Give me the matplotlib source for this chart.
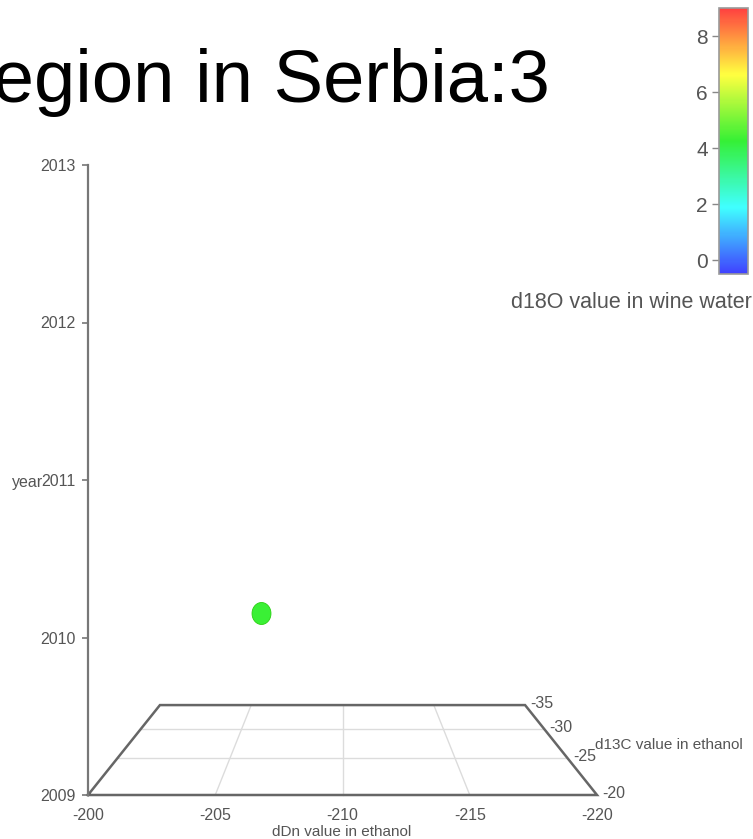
import numpy as np
import matplotlib
matplotlib.use('Agg')
import matplotlib.pyplot as plt
from matplotlib.colors import LinearSegmentedColormap, Normalize
from matplotlib.cm import ScalarMappable
from matplotlib.path import Path

# data (one sample)
dDn = [-206.2]
d13C = [-26.9]
year = [2010.0]
d18O = [4.3]

x_ticks = [-200, -205, -210, -215, -220]
z_ticks = [-20, -25, -30, -35]
year_ticks = [2009, 2010, 2011, 2012, 2013]
cbar_ticks = [0, 2, 4, 6, 8]

W, H = 753, 839
GRAY = '#555555'
plt.rcParams['font.family'] = ['Liberation Sans', 'DejaVu Sans']
plt.rcParams['axes.unicode_minus'] = False

fig = plt.figure(figsize=(W / 100, H / 100), dpi=100)


def px(l, b, r, t):
    # pixel box -> figure fraction rect
    return [l / W, 1 - b / H, (r - l) / W, (b - t) / H]


# front plane of the 3d box: x = dDn, y = year
ax = fig.add_axes(px(88, 795, 597, 165))
ax.set_xlim(-200, -220)
ax.set_ylim(2009, 2013)

# fake perspective for the depth axis (d13C)
Z_FRONT, Z_BACK = -20, -35
K = 0.394
CX, CY = -210, 2011.02


def proj(x, z, y):
    x, z, y = np.asarray(x, float), np.asarray(z, float), np.asarray(y, float)
    s = 1 + K * (z - Z_FRONT) / (Z_BACK - Z_FRONT)
    return CX + (x - CX) / s, CY + (y - CY) / s


# floor grid
for xv in x_ticks[1:-1]:
    gx, gy = proj([xv, xv], [Z_FRONT, Z_BACK], [2009, 2009])
    ax.plot(gx, gy, color='#dcdcdc', lw=1, clip_on=False, zorder=1)
for zv in z_ticks[1:-1]:
    gx, gy = proj([-200, -220], [zv, zv], [2009, 2009])
    ax.plot(gx, gy, color='#dcdcdc', lw=1, clip_on=False, zorder=1)

# floor outline
ox, oy = proj([-200, -220, -220, -200, -200],
              [Z_FRONT, Z_FRONT, Z_BACK, Z_BACK, Z_FRONT],
              [2009] * 5)
ax.plot(ox, oy, color='#666666', lw=1.8, clip_on=False, zorder=2,
        solid_joinstyle='miter')

# d13C tick labels along the right edge
for zv in z_ticks:
    lx, ly = proj(-220, zv, 2009)
    ax.annotate(str(zv), (lx, ly), xytext=(4, 1), textcoords='offset points',
                ha='left', va='center', fontsize=11.5, color=GRAY,
                annotation_clip=False)

# the sample
t = np.linspace(0, 2 * np.pi, 60)
oval = Path(np.column_stack([np.cos(t), 1.16 * np.sin(t)]))
cmap = LinearSegmentedColormap.from_list(
    'd18o', ['#4040ff', '#40ffff', '#35f035', '#ffff40', '#ff4040'])
norm = Normalize(vmin=-0.5, vmax=9.0)
sx, sy = proj(dDn, d13C, year)
ax.scatter(sx, sy, c=d18O, cmap=cmap, norm=norm, s=250, marker=oval,
           edgecolors='#28d010', linewidths=0.6, clip_on=False, zorder=5)

# axes styling: left spine is the year axis
for side in ['top', 'right', 'bottom']:
    ax.spines[side].set_visible(False)
ax.spines['left'].set_color('#777777')
ax.spines['left'].set_linewidth(1.6)
ax.set_yticks(year_ticks)
ax.set_xticks(x_ticks)
ax.tick_params(axis='y', length=4, width=1.2, color='#777777', pad=5,
               labelsize=11.5, labelcolor=GRAY)
ax.tick_params(axis='x', length=0, pad=9, labelsize=11.5, labelcolor=GRAY)
ax.patch.set_visible(False)

# axis titles
fig.text(342 / W, 1 - 836 / H, 'dDn value in ethanol', ha='center',
         va='baseline', fontsize=11, color=GRAY)
fig.text(595 / W, 1 - 745 / H, 'd13C value in ethanol', ha='left',
         va='center', fontsize=11, color=GRAY)
fig.text(43 / W, 1 - 482 / H, 'year', ha='right', va='center',
         fontsize=11.5, color=GRAY)

# title (cut off at the left edge)
fig.text(550 / W, 1 - 102 / H, 'Region in Serbia:3', ha='right',
         va='baseline', fontsize=53.5, color='black')

# colorbar
cax = fig.add_axes(px(719, 274, 748, 8))
cb = fig.colorbar(ScalarMappable(norm=norm, cmap=cmap), cax=cax,
                  ticks=cbar_ticks)
cb.outline.set_edgecolor('#999999')
cb.outline.set_linewidth(1.2)
cax.yaxis.set_ticks_position('left')
cax.yaxis.set_label_position('left')
cax.tick_params(length=5, width=1, color='#888888', pad=3, labelsize=15,
                labelcolor=GRAY)
fig.text(752 / W, 1 - 302 / H, 'd18O value in wine water', ha='right',
         va='center', fontsize=15.5, color=GRAY)

fig.savefig('out.png', dpi=100)
